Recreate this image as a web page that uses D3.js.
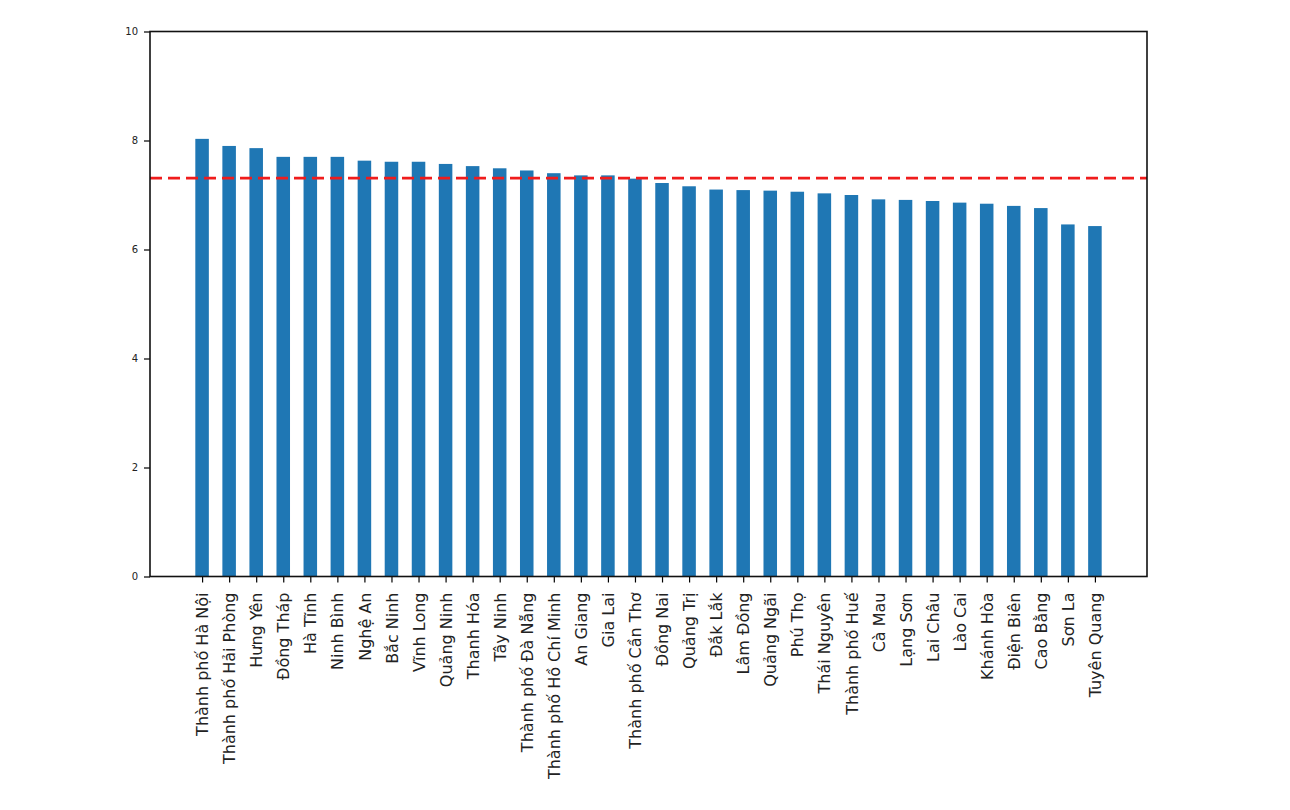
<!DOCTYPE html>
<html>
<head>
<meta charset="utf-8">
<script src="https://cdn.jsdelivr.net/npm/d3@7"></script>
<style>
  body { margin: 0; background: #fff; }
  svg { display: block; font-family: "DejaVu Sans", sans-serif; }
</style>
</head>
<body>
<svg id="chart" width="1290" height="810"></svg>
<script>
// ----------------------------
// Data
// ----------------------------
var provinces = [
    "Thành phố Hà Nội", "Thành phố Hải Phòng", "Hưng Yên", "Đồng Tháp", "Hà Tĩnh",
    "Ninh Bình", "Nghệ An", "Bắc Ninh", "Vĩnh Long", "Quảng Ninh",
    "Thanh Hóa", "Tây Ninh", "Thành phố Đà Nẵng", "Thành phố Hồ Chí Minh", "An Giang",
    "Gia Lai", "Thành phố Cần Thơ", "Đồng Nai", "Quảng Trị", "Đắk Lắk",
    "Lâm Đồng", "Quảng Ngãi", "Phú Thọ", "Thái Nguyên", "Thành phố Huế",
    "Cà Mau", "Lạng Sơn", "Lai Châu", "Lào Cai", "Khánh Hòa",
    "Điện Biên", "Cao Bằng", "Sơn La", "Tuyên Quang"
];
var scores = [
    8.03, 7.90, 7.86, 7.70, 7.70,
    7.70, 7.63, 7.61, 7.61, 7.57,
    7.53, 7.49, 7.45, 7.40, 7.36,
    7.36, 7.30, 7.22, 7.16, 7.10,
    7.09, 7.08, 7.06, 7.03, 7.00,
    6.92, 6.91, 6.89, 6.86, 6.84,
    6.80, 6.76, 6.46, 6.43
];
var meanScore = 7.31;
var yTicks = [0, 2, 4, 6, 8, 10];

// ----------------------------
// Layout
// ----------------------------
var plotLeft = 150, plotRight = 1147, plotTop = 31.5, plotBottom = 576.5;
var barWidth = 0.5;

var svg = d3.select("#chart");

// matplotlib style x limits: bar extents plus 5% margin
var n = provinces.length;
var lo = -barWidth / 2, hi = n - 1 + barWidth / 2;
var pad = (hi - lo) * 0.05;
var x = d3.scaleLinear().domain([lo - pad, hi + pad]).range([plotLeft, plotRight]);
var y = d3.scaleLinear().domain([0, 10]).range([plotBottom, plotTop]);

// Bars
svg.append("g")
    .selectAll("rect")
    .data(scores)
    .enter()
    .append("rect")
    .attr("x", (d, i) => x(i - barWidth / 2))
    .attr("width", (d, i) => x(i + barWidth / 2) - x(i - barWidth / 2))
    .attr("y", d => y(d))
    .attr("height", d => y(0) - y(d))
    .attr("fill", "#1f77b4");

// Mean line
svg.append("line")
    .attr("x1", plotLeft)
    .attr("x2", plotRight)
    .attr("y1", y(meanScore))
    .attr("y2", y(meanScore))
    .attr("stroke", "#f01c1c")
    .attr("stroke-width", 2.6)
    .attr("stroke-dasharray", "12,6");

// Y axis
var yAxis = svg.append("g")
    .attr("transform", `translate(${plotLeft},0)`)
    .call(d3.axisLeft(y).tickValues(yTicks).tickSize(6).tickPadding(6).tickFormat(d3.format("d")))
    .attr("font-family", "DejaVu Sans, sans-serif");
yAxis.select(".domain").remove();
yAxis.selectAll("line").attr("stroke", "#000").attr("stroke-width", 1.2);
yAxis.selectAll("text").attr("font-size", 10).attr("fill", "#222");

// X axis
var xAxis = svg.append("g")
    .attr("transform", `translate(0,${plotBottom})`)
    .call(d3.axisBottom(x).tickValues(d3.range(n)).tickSize(6).tickFormat(i => provinces[i]))
    .attr("font-family", "DejaVu Sans, sans-serif");
xAxis.select(".domain").remove();
xAxis.selectAll("line").attr("stroke", "#000").attr("stroke-width", 1.2);
xAxis.selectAll("text")
    .attr("font-size", 16)
    .attr("fill", "#222")
    .attr("text-anchor", "end")
    .attr("dy", "0.35em")
    .attr("transform", "translate(0,16) rotate(-90)")
    .attr("x", 0)
    .attr("y", 0);

// Frame
svg.append("rect")
    .attr("x", plotLeft)
    .attr("y", plotTop)
    .attr("width", plotRight - plotLeft)
    .attr("height", plotBottom - plotTop)
    .attr("fill", "none")
    .attr("stroke", "#111")
    .attr("stroke-width", 1.6);
</script>
</body>
</html>
